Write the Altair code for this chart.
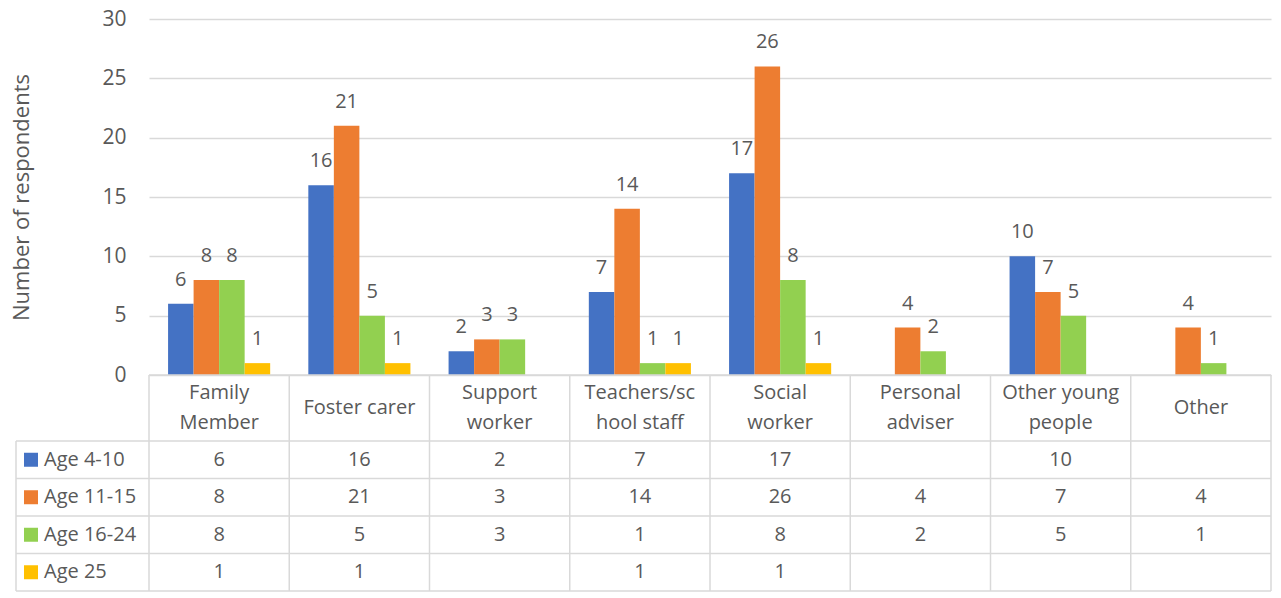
import altair as alt
import pandas as pd

# ---- data ----
categories = ["Family Member", "Foster carer", "Support worker", "Teachers/school staff",
              "Social worker", "Personal adviser", "Other young people", "Other"]
header_labels = ["Family\nMember", "Foster carer", "Support\nworker", "Teachers/sc\nhool staff",
                 "Social\nworker", "Personal\nadviser", "Other young\npeople", "Other"]
series = ["Age 4-10", "Age 11-15", "Age 16-24", "Age 25"]
age_4_10 = [6, 16, 2, 7, 17, None, 10, None]
age_11_15 = [8, 21, 3, 14, 26, 4, 7, 4]
age_16_24 = [8, 5, 3, 1, 8, 2, 5, 1]
age_25 = [1, 1, None, 1, 1, None, None, None]
colors = ["#4472C4", "#ED7D31", "#92D050", "#FFC000"]
y_ticks = [0, 5, 10, 15, 20, 25, 30]
Y_MAX = 30

FONT = "Open Sans"
TXT = "#595959"
GRID = "#d9d9d9"

# layout
PLOT_W = 1122
BAR_H = 356          # height of the bar area
HEADER_H = 66
ROW_H = 37.5
LINE_H = 30
NCAT = len(categories)
TABLE_H = HEADER_H + ROW_H * len(series)
TOTAL_H = BAR_H + TABLE_H
COL_W = PLOT_W / NCAT
LEG_LEFT = -133 / COL_W  # legend column left edge, in column units

all_values = [age_4_10, age_11_15, age_16_24, age_25]

rows = []
for r, (s, vals) in enumerate(zip(series, all_values)):
    for c, (cat, v) in enumerate(zip(categories, vals)):
        if v is not None:
            rows.append({"category": cat, "series": s, "value": int(v), "ci": c, "ri": r})
bars_df = pd.DataFrame(rows)

color_enc = alt.Color("series:N", sort=series, scale=alt.Scale(domain=series, range=colors), legend=None)

# ---- bars ----
y_min = -Y_MAX * TABLE_H / BAR_H
bar_y_scale = alt.Scale(domain=[y_min, Y_MAX], nice=False, zero=False)
xenc = alt.X("category:N", sort=categories,
             scale=alt.Scale(domain=categories, paddingInner=0.272, paddingOuter=0.136), axis=None)
xoff = alt.XOffset("series:N", sort=series, scale=alt.Scale(domain=series))
yenc = alt.Y("value:Q", scale=bar_y_scale,
             axis=alt.Axis(values=y_ticks, title="Number of respondents", titleFont=FONT,
                           titleFontSize=22, titleFontWeight="normal", titleColor=TXT,
                           titlePadding=68, titleY=BAR_H / 2,
                           labelFont=FONT, labelFontSize=21, labelColor=TXT,
                           labelPadding=23, ticks=False, tickSize=0, domain=False,
                           grid=True, gridColor=GRID, gridWidth=1.5))
base = alt.Chart(bars_df)
bars = base.mark_bar().encode(x=xenc, xOffset=xoff, y=yenc, color=color_enc)
labels = base.mark_text(baseline="alphabetic", dy=-18, fontSize=20, font=FONT, color=TXT).encode(
    x=xenc, xOffset=xoff, y=alt.Y("value:Q", scale=bar_y_scale, axis=None),
    text=alt.Text("value:Q"),
)

# ---- data table (below the bars) ----
tx_scale = alt.Scale(domain=[0, NCAT], nice=False, zero=False)
ty_scale = alt.Scale(domain=[-BAR_H, TABLE_H], nice=False, zero=False, reverse=True)

lines = [{"x": 0, "x2": NCAT, "y": 0, "y2": 0}]
for r in range(len(series) + 1):
    yy = HEADER_H + ROW_H * r
    lines.append({"x": LEG_LEFT, "x2": NCAT, "y": yy, "y2": yy})
for c in range(NCAT + 1):
    lines.append({"x": c, "x2": c, "y": 0, "y2": TABLE_H})
lines.append({"x": LEG_LEFT, "x2": LEG_LEFT, "y": HEADER_H, "y2": TABLE_H})
lines_df = pd.DataFrame(lines)

grid_lines = alt.Chart(lines_df).mark_rule(color=GRID, strokeWidth=1.5).encode(
    x=alt.X("x:Q", scale=tx_scale, axis=None), x2="x2:Q",
    y=alt.Y("y:Q", scale=ty_scale, axis=None), y2="y2:Q",
)

hrows = []
for c, lab in enumerate(header_labels):
    parts = lab.split("\n")
    n = len(parts)
    for i, p in enumerate(parts):
        hrows.append({"label": p, "tx": c + 0.5,
                      "ty": HEADER_H / 2 + (i - (n - 1) / 2) * LINE_H})
header_df = pd.DataFrame(hrows)
header_text = alt.Chart(header_df).mark_text(fontSize=20, font=FONT, color=TXT, baseline="middle").encode(
    x=alt.X("tx:Q", scale=tx_scale, axis=None),
    y=alt.Y("ty:Q", scale=ty_scale, axis=None),
    text="label:N",
)

cell_df = bars_df.assign(
    tx=bars_df["ci"] + 0.5,
    ty=HEADER_H + ROW_H * bars_df["ri"] + ROW_H / 2,
)
cell_text = alt.Chart(cell_df).mark_text(fontSize=20, font=FONT, color=TXT, baseline="middle").encode(
    x=alt.X("tx:Q", scale=tx_scale, axis=None),
    y=alt.Y("ty:Q", scale=ty_scale, axis=None),
    text=alt.Text("value:Q"),
)

leg_df = pd.DataFrame({
    "series": series,
    "ty": [HEADER_H + ROW_H * r + ROW_H / 2 for r in range(len(series))],
})
leg_df["sx"] = LEG_LEFT + 15 / COL_W
leg_df["lx"] = LEG_LEFT + 28 / COL_W
leg_squares = alt.Chart(leg_df).mark_square(size=196, opacity=1).encode(
    x=alt.X("sx:Q", scale=tx_scale, axis=None),
    y=alt.Y("ty:Q", scale=ty_scale, axis=None),
    color=color_enc,
)
leg_text = alt.Chart(leg_df).mark_text(fontSize=20, font=FONT, color=TXT, align="left", baseline="middle").encode(
    x=alt.X("lx:Q", scale=tx_scale, axis=None),
    y=alt.Y("ty:Q", scale=ty_scale, axis=None),
    text="series:N",
)

chart = alt.layer(
    bars, labels, grid_lines, header_text, cell_text, leg_squares, leg_text
).resolve_scale(
    x="independent", y="independent", xOffset="independent"
).properties(
    width=PLOT_W, height=TOTAL_H,
    padding={"left": 2, "top": 0, "right": 0, "bottom": 0},
).configure_view(stroke=None)

chart.save("out.html", embed_options={"renderer": "svg", "actions": False})
